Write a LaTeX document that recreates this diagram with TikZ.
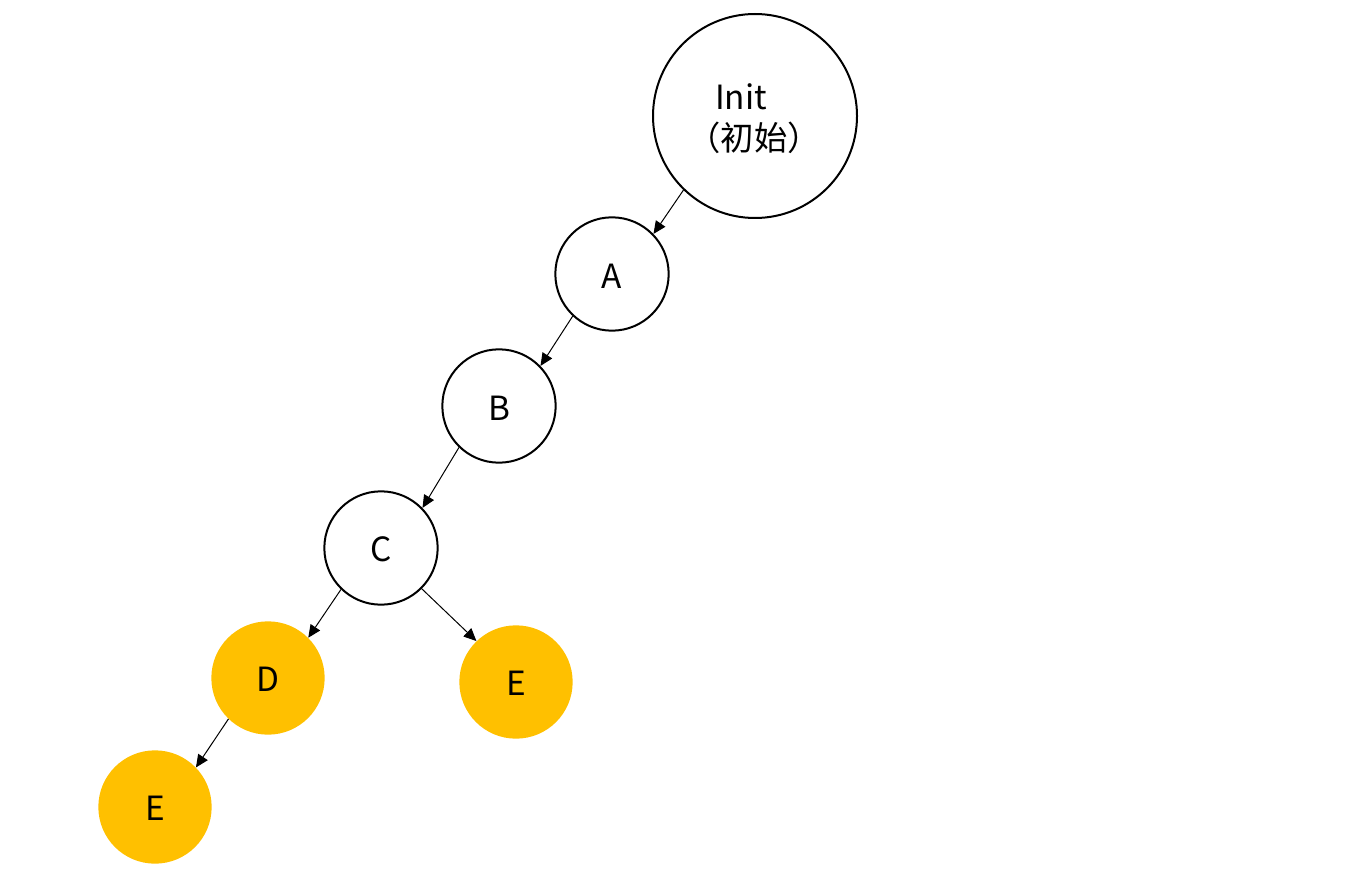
\documentclass[tikz,border=0pt]{standalone}
\usepackage{fontspec}
\setmainfont{Noto Sans CJK SC}
\usetikzlibrary{arrows.meta}
\definecolor{gold}{HTML}{FFC000}
\tikzset{
  st/.style={circle,draw=black,line width=1.5pt,fill=white,inner sep=0pt,minimum size=85pt},
  hit/.style={circle,draw=none,fill=gold,inner sep=0pt,minimum size=85pt},
  lbl/.style={inner sep=0pt,font=\fontsize{25}{29}\selectfont},
  arr/.style={line width=0.75pt,-{Triangle[length=9.5pt,width=8.5pt]}}
}
\begin{document}
\begin{tikzpicture}[x=0.75pt,y=-0.75pt]
\useasboundingbox (0,0) rectangle (1362,884);
\node[st,minimum size=153pt] (init) at (755,116) {};
\node[lbl] (initt1) at (741,97) {Init};
\node[lbl] (initt2) at (754,138) {（初始）};
\node[st] (A) at (612,274) {};
\node[lbl] (At) at (612,276) {A};
\node[st] (B) at (499,406) {};
\node[lbl] (Bt) at (499,408) {B};
\node[st] (C) at (381,548) {};
\node[lbl] (Ct) at (381,549) {C};
\node[hit] (D) at (268,678) {};
\node[lbl] (Dt) at (268,679) {D};
\node[hit] (E1) at (516,682) {};
\node[lbl] (E1t) at (516,683) {E};
\node[hit] (E2) at (155,807) {};
\node[lbl] (E2t) at (155,808) {E};
\draw[arr] (init.226) -- (A.44);
\draw[arr] (A.227) -- (B.44);
\draw[arr] (B.226) -- (C.44);
\draw[arr] (C.226) -- (D.45);
\draw[arr] (C.315) -- (E1.134);
\draw[arr] (D.226) -- (E2.44);
\end{tikzpicture}
\end{document}
